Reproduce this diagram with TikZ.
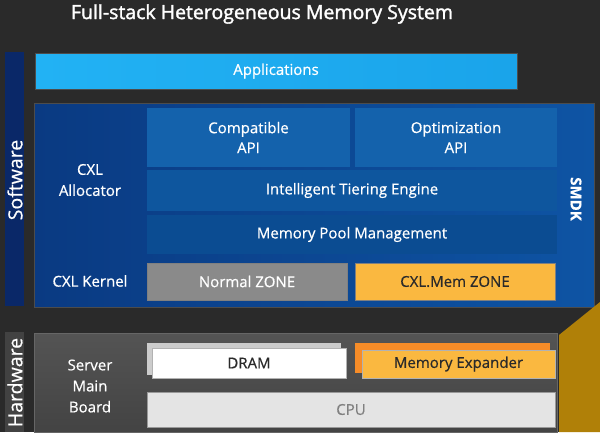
\documentclass[tikz,border=0pt]{standalone}
\usepackage{fontspec}
\setmainfont{Open Sans}[FakeBold=0.6]
\newfontfamily\titlefont{Open Sans}[FakeBold=1.6]
\usetikzlibrary{positioning,calc}
\definecolor{BgDark}{RGB}{42,42,42}
\definecolor{AppBlue}{RGB}{26,164,234}
\definecolor{AppLight}{RGB}{34,178,244}
\definecolor{SwBlue}{RGB}{14,84,164}
\definecolor{SwDeep}{RGB}{10,58,130}
\definecolor{SubBlue}{RGB}{20,98,172}
\definecolor{TierBlue}{RGB}{14,86,158}
\definecolor{PoolBlue}{RGB}{11,76,146}
\definecolor{BarNavy}{RGB}{10,40,104}
\definecolor{ZoneGray}{RGB}{138,138,138}
\definecolor{ZoneOrange}{RGB}{250,184,64}
\definecolor{BackOrange}{RGB}{246,140,40}
\definecolor{HwGray}{RGB}{84,84,84}
\definecolor{HwBar}{RGB}{66,66,66}
\definecolor{Gold}{RGB}{176,128,8}
\definecolor{CpuGray}{RGB}{228,228,228}
\tikzset{
  blk/.style={rectangle,inner sep=0pt,align=center,text=white,
    font=\fontsize{15}{20}\selectfont},
  lbl/.style={align=center,text=white,inner sep=0pt,
    font=\fontsize{15}{21}\selectfont},
  side/.style={rectangle,inner sep=0pt,minimum width=19pt},
  sidetxt/.style={text=white,inner sep=0pt,rotate=90,
    font=\fontsize{19.5}{20}\selectfont},
}

\begin{document}
\begin{tikzpicture}[x=1pt,y=-1pt]
\fill[BgDark] (0,0) rectangle (600,432);
\useasboundingbox (0,0) rectangle (600,432);
\node[lbl,font=\fontsize{19.5}{22}\titlefont] (title) at (262,14) {Full-stack Heterogeneous Memory System};
\node[side,fill=BarNavy,minimum height=254pt] (swbar) at (14.5,179) {};
\node[sidetxt] (swtxt) at (15,180) {Software};
\node[blk,left color=AppLight,right color=AppBlue,draw=black!70,minimum width=482pt,minimum height=36pt] (app) at (276,71) {Applications};
\node[blk,left color=SwDeep,right color=SwBlue,draw=black!70,minimum width=560pt,minimum height=204pt] (swbox) at (314,205) {};
\node[blk,fill=SubBlue,minimum width=203pt,minimum height=59pt] (compat) at (248.5,137.5) {Compatible\\API};
\node[blk,fill=SubBlue,minimum width=202pt,minimum height=59pt] (optim) at (456,137.5) {Optimization\\API};
\node[blk,fill=TierBlue,minimum width=410pt,minimum height=41pt] (tier) at (352,190.5) {Intelligent Tiering Engine};
\node[blk,fill=PoolBlue,minimum width=410pt,minimum height=39pt] (pool) at (352,234.5) {Memory Pool Management};
\node[blk,fill=ZoneGray,draw=black!50,minimum width=200pt,minimum height=37pt] (normal) at (247,281.5) {Normal ZONE};
\node[blk,fill=ZoneOrange,draw=black!50,text=BgDark,minimum width=200pt,minimum height=37pt] (cxlmem) at (455,281.5) {CXL.Mem ZONE};
\node[lbl,font=\fontsize{15}{20}\bfseries,rotate=-90] (smdk) at (576,199) {SMDK};
\node[lbl] (alloc) at (90,180) {CXL\\Allocator};
\node[lbl] (kernel) at (90,281) {CXL Kernel};
\node[side,fill=HwBar,minimum height=100pt] (hwbar) at (14.5,382) {};
\node[sidetxt] (hwtxt) at (15,382.5) {Hardware};
\node[blk,top color=HwGray,bottom color=HwGray!80!black,draw=black!60,minimum width=523pt,minimum height=99pt] (hwbox) at (295.5,382.5) {};
\fill[Gold] (559,335) -- (600,302) -- (600,432) -- (559,432) -- cycle;
\node[blk,fill=black!20,minimum width=194pt,minimum height=32pt] (dramback) at (244,359) {};
\node[blk,fill=white,draw=black!30,text=BgDark,minimum width=194pt,minimum height=30pt] (dram) at (249,363) {DRAM};
\node[blk,fill=BackOrange,minimum width=195pt,minimum height=30pt] (expback) at (452.5,358) {};
\node[blk,fill=ZoneOrange,draw=black!30,text=BgDark,minimum width=193pt,minimum height=28pt] (exp) at (458.5,364) {Memory Expander};
\node[blk,fill=CpuGray,draw=black!40,text=black!50,minimum width=408pt,minimum height=35pt] (cpu) at (351,409.5) {CPU};
\node[lbl] (board) at (90,386) {Server\\Main\\Board};
\end{tikzpicture}
\end{document}
